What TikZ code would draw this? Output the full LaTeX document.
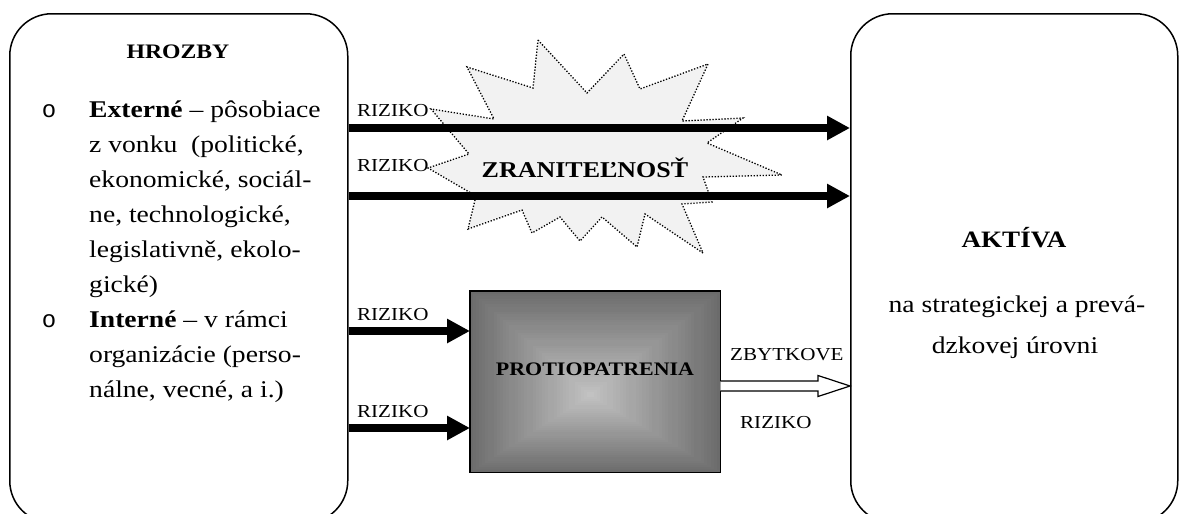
\documentclass[tikz,border=0pt]{standalone}
\usepackage{fontspec}
\setmainfont{Liberation Serif}[FakeStretch=1.15]
\newfontfamily\bulletfont{Liberation Mono}
\usetikzlibrary{arrows.meta,calc}
\begin{document}
\begin{tikzpicture}[x=1pt,y=-1pt,
  panel/.style={draw, line width=1.5pt, rounded corners=42pt, inner sep=0pt, anchor=north west},
  lbl/.style={inner sep=0pt, font=\fontsize{18.3}{22}\selectfont},
  body/.style={inner sep=0pt, font=\fontsize{24}{28}\selectfont},
  heading/.style={inner sep=0pt, font=\fontsize{20.6}{24}\selectfont\bfseries},
  bullet/.style={inner sep=0pt, font=\fontsize{24}{28}\bulletfont, anchor=base},
  riskarrow/.style={line width=8pt, -{Triangle[length=23pt,width=23pt]}},
  burst/.style={draw, fill=black!5, line width=1.3pt, dash pattern=on 1.3pt off 1.7pt, line join=miter}]

\useasboundingbox (0,0) rectangle (1181,514);
\clip (0,0) rectangle (1181,514);

% the two side panels
\node[panel, minimum width=338pt, minimum height=509pt] (L) at (9,13) {};
\node[panel, minimum width=327pt, minimum height=509pt] (R) at (850,13) {};

% threats panel
\node[heading, anchor=base] (hl) at (178,58) {HROZBY};
\node[bullet] (b1) at (49,117) {o};
\node[bullet] (b2) at (49,327) {o};
\foreach \txt [count=\n] in {
  {\textbf{Externé} – pôsobiace},
  {z vonku\ \ (politické,},
  {ekonomické, sociál-},
  {ne, technologické,},
  {legislativně, ekolo-},
  {gické)},
  {\textbf{Interné} – v rámci},
  {organizácie (perso-},
  {nálne, vecné, a i.)}}
  \node[body, anchor=base west] (t\n) at (89,{117+35*(\n-1)}) {\txt};

% assets panel
\node[inner sep=0pt, font=\fontsize{23.5}{28}\selectfont\bfseries, anchor=base] (ha) at (1014,247) {AKTÍVA};
\node[body, anchor=base] (a1) at (1017,312) {na strategickej a prevá-};
\node[body, anchor=base] (a2) at (1015,353) {dzkovej úrovni};

% vulnerability burst
\draw[burst] (538,40) -- (587,93) -- (624,54) -- (640,89) -- (708,64) -- (682,121)
  -- (743,118) -- (707,143) -- (782,175) -- (703,177) -- (712,202) -- (682,204)
  -- (703,253) -- (645,214) -- (637,247) -- (602,217) -- (580,241) -- (560,217)
  -- (532,233) -- (522,210) -- (468,229) -- (476,196) -- (428,168) -- (469,154)
  -- (431,109) -- (494,119) -- (467,67) -- (533,88) -- cycle;
\node[inner sep=0pt, font=\fontsize{22.6}{27}\selectfont\bfseries, anchor=base] (Z) at (585,177) {ZRANITEĽNOSŤ};

% countermeasures block with a centre-out gradient
\node[inner sep=0pt, minimum width=250pt, minimum height=181pt, anchor=north west] (P) at (470,291) {};
\foreach \i in {0,...,40} {
  \pgfmathsetmacro\t{\i/40}
  \pgfmathtruncatemacro\k{58-34*\t}
  \fill[black!\k] ($(P.north west)+({\t*120},{\t*104})$) rectangle ($(P.south east)+({-\t*130},{-\t*77})$);
}
\draw[line width=1.2pt] (P.north west) rectangle (P.south east);
\node[inner sep=0pt, font=\fontsize{19.1}{23}\selectfont\bfseries, anchor=base] (pt) at (595,375) {PROTIOPATRENIA};

% risk arrows
\draw[riskarrow] (L.east |- 0,128) -- (R.west |- 0,128);
\draw[riskarrow] (L.east |- 0,196) -- (R.west |- 0,196);
\draw[riskarrow] (L.east |- 0,331) -- (P.west |- 0,331);
\draw[riskarrow] (L.east |- 0,428) -- (P.west |- 0,428);

\node[lbl, anchor=base west] (r1) at (357,116.5) {RIZIKO};
\node[lbl, anchor=base west] (r2) at (357,171.5) {RIZIKO};
\node[lbl, anchor=base west] (r3) at (357,320) {RIZIKO};
\node[lbl, anchor=base west] (r4) at (357,417) {RIZIKO};

% residual risk: outlined arrow
\coordinate (zs) at (P.east |- 0,386);
\coordinate (ze) at (R.west |- 0,386);
\draw[line width=1.2pt, fill=white, line join=miter]
  ($(zs)+(0,-5)$) -- ($(ze)+(-32,-5)$) -- ($(ze)+(-32,-10.5)$) -- (ze)
  -- ($(ze)+(-32,10.5)$) -- ($(ze)+(-32,5)$) -- ($(zs)+(0,5)$);
\begin{scope}
  \clip (700,348.6) rectangle (849,380);
  \node[lbl, anchor=base west] (zb) at (730,360) {ZBYTKOVÉ};
\end{scope}
\node[lbl, anchor=base west] (zr) at (740,428) {RIZIKO};

\end{tikzpicture}
\end{document}
